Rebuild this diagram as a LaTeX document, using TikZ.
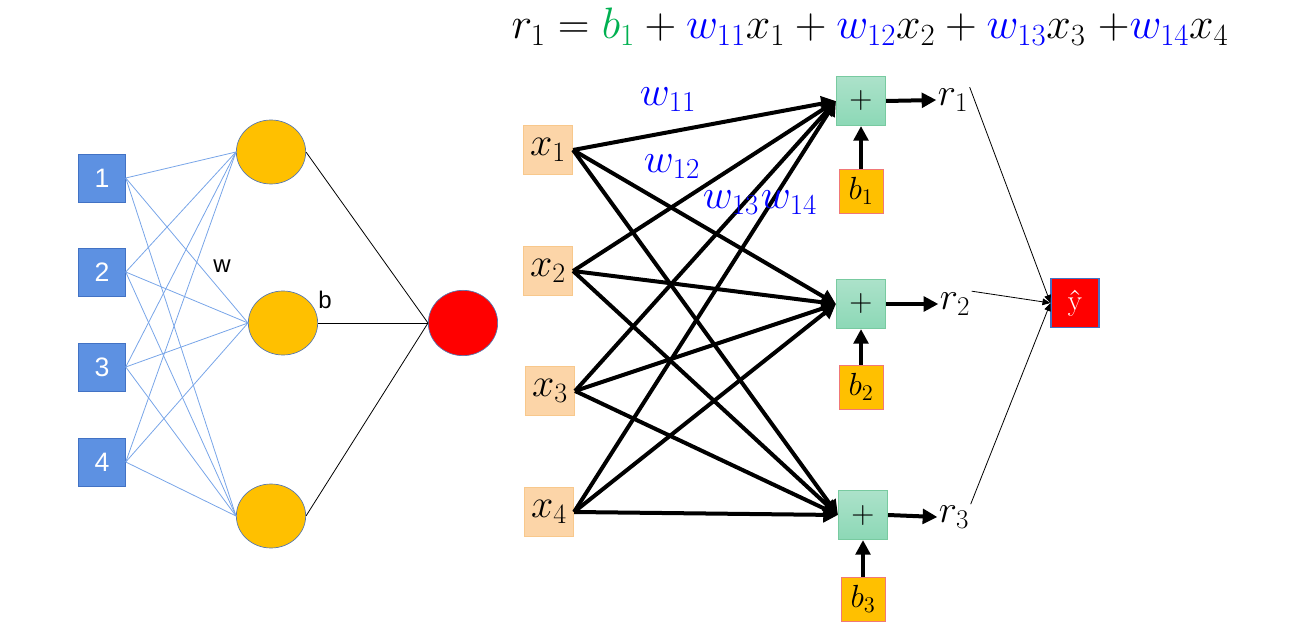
\RequirePackage{fix-cm}
\documentclass[tikz,border=0pt]{standalone}
\usepackage{fontspec}
\usepackage{amsmath}
\usetikzlibrary{shapes.geometric, arrows.meta, positioning, calc}
\newfontfamily\arialfont{Liberation Sans}
\definecolor{sqblue}{RGB}{93,145,226}
\definecolor{sqedge}{RGB}{66,114,196}
\definecolor{lineblue}{RGB}{120,165,232}
\definecolor{hidyellow}{RGB}{255,192,0}
\definecolor{outred}{RGB}{255,0,0}
\definecolor{inorange}{RGB}{252,213,168}
\definecolor{inedge}{RGB}{248,200,140}
\definecolor{sumtop}{RGB}{172,226,202}
\definecolor{sumbot}{RGB}{140,216,182}
\definecolor{sumedge}{RGB}{120,202,160}
\definecolor{biasedge}{RGB}{240,120,120}
\definecolor{wblue}{RGB}{0,0,255}
\definecolor{bgreen}{RGB}{0,176,80}
\tikzset{
  insq/.style={rectangle, draw=sqedge, fill=sqblue, minimum width=35pt,
    minimum height=36pt, inner sep=0pt, text=white,
    font=\arialfont\fontsize{20}{22}\selectfont, line width=0.6pt},
  hidnode/.style={ellipse, draw=sqedge!70!gray, fill=hidyellow,
    minimum width=52pt, minimum height=48pt, inner sep=0pt, line width=0.5pt},
  outnode/.style={ellipse, draw=sqedge!70!gray, fill=outred,
    minimum width=52pt, minimum height=49pt, inner sep=0pt, line width=0.5pt},
  xbox/.style={rectangle, draw=inedge, fill=inorange, minimum size=37pt,
    inner sep=0pt, font=\fontsize{30}{34}\selectfont, line width=0.6pt},
  sumbox/.style={rectangle, draw=sumedge, top color=sumtop, bottom color=sumbot,
    minimum size=37pt, inner sep=0pt, font=\fontsize{24}{26}\selectfont, line width=0.6pt},
  biasbox/.style={rectangle, draw=biasedge, fill=hidyellow, minimum size=33pt,
    inner sep=0pt, font=\fontsize{24}{26}\selectfont, line width=0.6pt},
  rlabel/.style={inner sep=1pt, font=\fontsize{29}{32}\selectfont},
  wlabel/.style={text=wblue, inner sep=0pt, font=\fontsize{31}{34}\selectfont},
  wline/.style={lineblue, line width=0.6pt},
  thinline/.style={black, line width=0.6pt},
  thickarrow/.style={-{Triangle[length=11pt,width=11pt]}, line width=3pt, color=black},
  thinarrow/.style={-{Triangle[length=6pt,width=5pt]}, line width=0.6pt, color=black}
}

\begin{document}
\begin{tikzpicture}[x=0.75pt, y=-0.75pt]
  \useasboundingbox (0,0) rectangle (1305,641);

  % --- Left network ---
  \node[insq] (s1) at (102,178) {1};
  \node[insq] (s2) at (102,272) {2};
  \node[insq] (s3) at (102,367) {3};
  \node[insq] (s4) at (102,462) {4};

  \node[hidnode] (h1) at (271,152) {};
  \node[hidnode] (h2) at (283,323) {};
  \node[hidnode] (h3) at (271,516) {};
  \node[outnode] (out) at (463,323) {};

  \foreach \i in {1,...,4}
    \foreach \j in {1,2,3}
      \draw[wline] (s\i.east) -- (h\j.west);
  \foreach \j in {1,2,3}
    \draw[thinline] (h\j.east) -- (out.west);

  \node[font=\arialfont\fontsize{18}{20}\selectfont] (wtag) at (222,266) {w};
  \node[font=\arialfont\fontsize{18}{20}\selectfont] (btag) at (325,300) {b};

  % --- Right network ---
  \node[font=\fontsize{33}{36}\selectfont] (eq) at (870,27)
    {$r_1 = {\color{bgreen}b_1} + {\color{wblue}w_{11}}x_1 + {\color{wblue}w_{12}}x_2
      + {\color{wblue}w_{13}}x_3\;{+}{\color{wblue}w_{14}}x_4$};

  \node[xbox] (x1) at (548,150) {$x_1$};
  \node[xbox] (x2) at (548,271) {$x_2$};
  \node[xbox] (x3) at (550,391) {$x_3$};
  \node[xbox] (x4) at (549,512) {$x_4$};

  \node[sumbox] (p1) at (861,101) {$+$};
  \node[sumbox] (p2) at (861,304) {$+$};
  \node[sumbox] (p3) at (863,515) {$+$};

  \node[biasbox] (b1) at (861,191) {$b_1$};
  \node[biasbox] (b2) at (861,387) {$b_2$};
  \node[biasbox] (b3) at (863,599) {$b_3$};

  \node[rlabel] (r1) at (953,100) {$r_1$};
  \node[rlabel] (r2) at (955,304) {$r_2$};
  \node[rlabel] (r3) at (954,517) {$r_3$};

  \node[rectangle, draw=sqedge, fill=outred, minimum width=36pt, minimum height=37pt,
    inner sep=0pt, text=white, line width=0.8pt,
    font=\fontsize{22}{24}\selectfont] (yhat) at (1075,303) {ŷ};

  \foreach \i in {1,...,4}
    \foreach \j in {1,2,3}
      \draw[thickarrow] (x\i.east) -- (p\j.west);

  \foreach \j in {1,2,3} {
    \draw[thickarrow] (b\j.north) -- (p\j.south);
    \draw[thickarrow] (p\j.east) -- (r\j.west);
    \draw[thinarrow] (r\j.north east) -- (yhat.west);
  }

  % weight labels
  \node[wlabel] (w11) at (668,100) {$w_{11}$};
  \node[wlabel] (w12) at (672,167) {$w_{12}$};
  \node[wlabel] (w13) at (731,203) {$w_{13}$};
  \node[wlabel] (w14) at (789,203) {$w_{14}$};
\end{tikzpicture}
\end{document}
